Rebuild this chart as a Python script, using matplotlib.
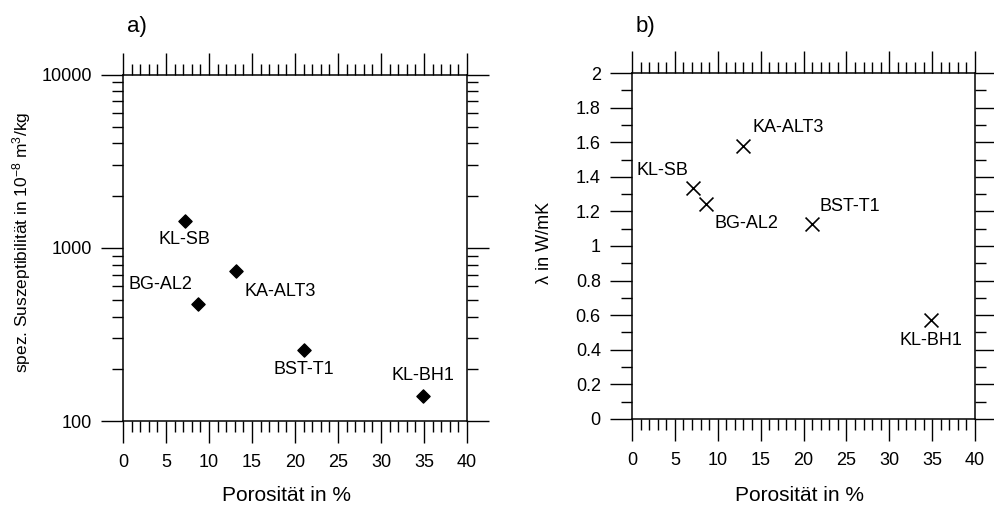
import matplotlib
matplotlib.use("Agg")
import matplotlib.pyplot as plt
from matplotlib.ticker import MultipleLocator, LogLocator, NullFormatter, FixedLocator

plt.rcParams["font.family"] = ["Liberation Sans", "DejaVu Sans"]
plt.rcParams["mathtext.fontset"] = "custom"
plt.rcParams["mathtext.rm"] = "Liberation Sans"
plt.rcParams["mathtext.it"] = "Liberation Sans"

# sample names
samples = ["KL-SB", "BG-AL2", "KA-ALT3", "BST-T1", "KL-BH1"]

# a) porosity vs. specific susceptibility
poro_a = [7.2, 8.7, 13.1, 21.0, 34.9]
susc = [1430, 473, 731, 258, 140]
offs_a = [(0, -19), (-37, 20), (45, -20), (0, -20), (0, 20)]

# b) porosity vs. thermal conductivity
poro_b = [7.15, 8.6, 13.0, 21.0, 34.9]
lam = [1.337, 1.241, 1.58, 1.125, 0.572]
offs_b = [(-31, 17), (41, -19), (45, 18), (38, 18), (0, -20)]

fig = plt.figure(figsize=(9.95, 5.07), dpi=100)
ax1 = fig.add_axes([0.1236, 0.1696, 0.3457, 0.6834])
ax2 = fig.add_axes([0.6352, 0.1736, 0.3447, 0.6824])


def style(ax):
    for s in ax.spines.values():
        s.set_linewidth(1.1)
    ax.tick_params(which="both", direction="out", top=True, right=True,
                   labeltop=False, labelright=False, width=1.0, labelsize=13)
    ax.tick_params(which="major", length=15.5, pad=7)
    ax.tick_params(which="minor", length=8)
    ax.tick_params(axis="x", which="major", pad=8)
    ax.set_xlim(0, 40)
    ax.xaxis.set_major_locator(MultipleLocator(5))
    ax.xaxis.set_minor_locator(MultipleLocator(1))


# panel a
ax1.scatter(poro_a, susc, marker="D", s=45, color="black", zorder=3)
ax1.set_yscale("log")
ax1.set_ylim(100, 10000)
style(ax1)
ax1.yaxis.set_major_locator(FixedLocator([100, 1000, 10000]))
ax1.yaxis.set_minor_locator(LogLocator(base=10, subs=range(2, 10)))
ax1.yaxis.set_minor_formatter(NullFormatter())
ax1.set_yticklabels(["100", "1000", "10000"])
for name, x, y, o in zip(samples, poro_a, susc, offs_a):
    ax1.annotate(name, (x, y), xytext=o, textcoords="offset pixels",
                 ha="center", va="center", fontsize=13)
ax1.set_xlabel("Porosität in %", fontsize=15)
ax1.xaxis.set_label_coords(0.474, -0.214)
ax1.xaxis.label.set_verticalalignment("center")
ax1.set_ylabel("spez. Suszeptibilität in 10$^{-8}$ m$^3$/kg", fontsize=12.5)
ax1.yaxis.set_label_coords(-0.294, 0.515)
ax1.yaxis.label.set_verticalalignment("center")
ax1.text(0.04, 1.138, "a)", transform=ax1.transAxes, fontsize=16,
         ha="center", va="center")

# panel b
ax2.scatter(poro_b, lam, marker="x", s=100, color="black", linewidths=1.2,
            zorder=3)
ax2.set_ylim(0, 2)
style(ax2)
ax2.yaxis.set_major_locator(MultipleLocator(0.2))
ax2.yaxis.set_minor_locator(MultipleLocator(0.1))
ax2.yaxis.set_major_formatter(lambda v, p: f"{v:g}")
for name, x, y, o in zip(samples, poro_b, lam, offs_b):
    ax2.annotate(name, (x, y), xytext=o, textcoords="offset pixels",
                 ha="center", va="center", fontsize=13)
ax2.set_xlabel("Porosität in %", fontsize=15)
ax2.xaxis.set_label_coords(0.487, -0.22)
ax2.xaxis.label.set_verticalalignment("center")
ax2.set_ylabel("λ in W/mK", fontsize=13)
ax2.yaxis.set_label_coords(-0.254, 0.509)
ax2.yaxis.label.set_verticalalignment("center")
ax2.text(0.038, 1.134, "b)", transform=ax2.transAxes, fontsize=16,
         ha="center", va="center")

fig.savefig("out.png", dpi=100)
